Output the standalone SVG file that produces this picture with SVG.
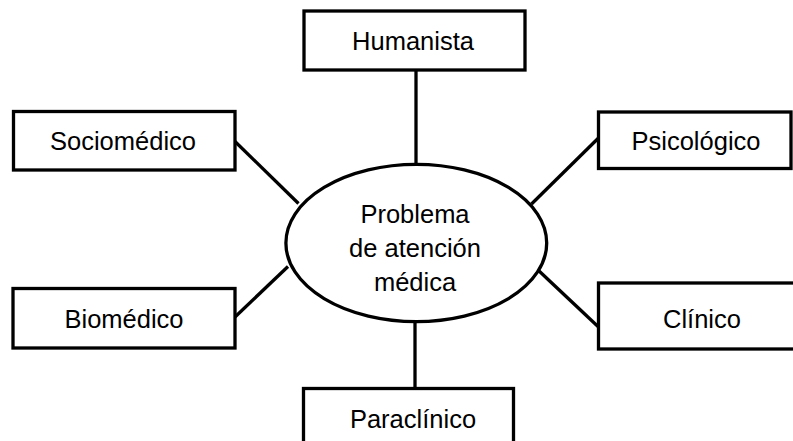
<svg xmlns="http://www.w3.org/2000/svg" width="793" height="441" viewBox="0 0 793 441">
<style>
.box{fill:#fff;stroke:#000;stroke-width:3.3}
.lbl{font-family:"Liberation Sans",Arial,sans-serif;font-size:25.5px;fill:#000;text-anchor:middle}
.con{stroke:#000;stroke-width:3.3;fill:none}
</style>
<rect x="0" y="0" width="793" height="441" fill="#fff"/>
<g id="connectors">
<line class="con" x1="416" y1="70" x2="416" y2="165"/>
<line class="con" x1="235" y1="141.5" x2="298.5" y2="203.5"/>
<line class="con" x1="598.5" y1="138" x2="531.5" y2="204"/>
<line class="con" x1="235" y1="317" x2="288" y2="266.5"/>
<line class="con" x1="538" y1="270" x2="598.5" y2="327"/>
<line class="con" x1="415" y1="321" x2="415" y2="389"/>
</g>
<g id="center">
<ellipse class="box" cx="416.3" cy="243" rx="130.4" ry="78.6"/>
<text class="lbl" x="415" y="223">Problema</text>
<text class="lbl" x="415" y="257">de atención</text>
<text class="lbl" x="415" y="291">médica</text>
</g>
<g id="humanista">
<rect class="box" x="304" y="11" width="221" height="59"/>
<text class="lbl" x="413" y="50">Humanista</text>
</g>
<g id="sociomedico">
<rect class="box" x="13.5" y="111.5" width="221.5" height="58.5"/>
<text class="lbl" x="123" y="150">Sociomédico</text>
</g>
<g id="psicologico">
<rect class="box" x="598.5" y="112" width="192.5" height="56.5"/>
<text class="lbl" x="696" y="150">Psicológico</text>
</g>
<g id="biomedico">
<rect class="box" x="13" y="288.5" width="222" height="59.5"/>
<text class="lbl" x="124" y="328">Biomédico</text>
</g>
<g id="clinico">
<rect class="box" x="598.5" y="283" width="220" height="66"/>
<text class="lbl" x="702" y="328">Clínico</text>
</g>
<g id="paraclinico">
<rect class="box" x="303.5" y="388.5" width="210" height="80"/>
<text class="lbl" x="413" y="428">Paraclínico</text>
</g>
</svg>
